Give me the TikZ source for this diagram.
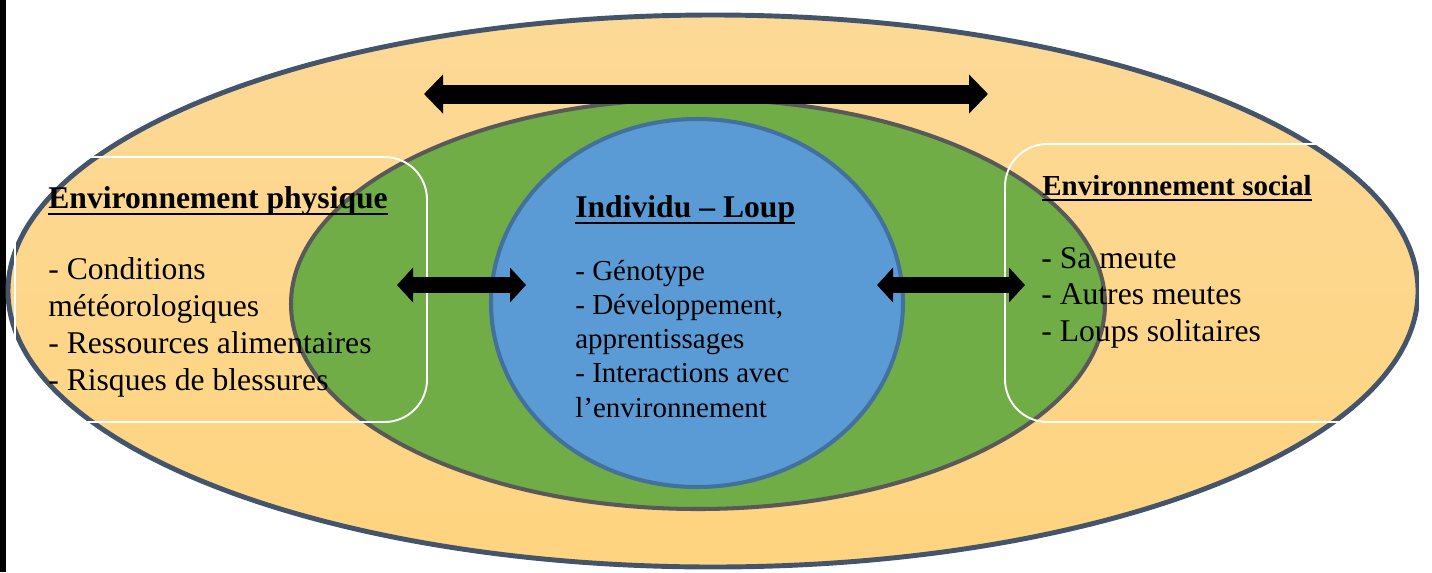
\documentclass[tikz,border=0pt]{standalone}
\usepackage{fontspec}
\setmainfont{Liberation Serif}
\usetikzlibrary{arrows.meta}
\definecolor{sable}{RGB}{253,217,151}
\definecolor{sablefonce}{RGB}{254,212,127}
\definecolor{ardoise}{RGB}{68,84,106}
\definecolor{herbe}{RGB}{112,173,71}
\definecolor{grisbord}{RGB}{89,89,89}
\definecolor{ciel}{RGB}{91,155,213}
\definecolor{cielbord}{RGB}{65,113,156}
\newcommand{\souligne}[1]{\setbox0\hbox{#1}\rlap{\rule[-0.21em]{\wd0}{0.06em}}\box0}

\begin{document}
\begin{tikzpicture}[x=0.02cm,y=-0.02cm]
                \tikzset{bifleche/.style={line width=0.32cm,
                {Triangle[length=0.32cm,width=0.68cm]}-{Triangle[length=0.32cm,width=0.68cm]}},
                grandefleche/.style={line width=0.38cm,
                {Triangle[length=0.38cm,width=0.76cm]}-{Triangle[length=0.38cm,width=0.76cm]}},
                cadre/.style={draw=white, line width=1.1pt, rounded corners=0.85cm},
                titre/.style={anchor=base west, inner sep=0pt, font=\bfseries\fontsize{18}{21}\selectfont},
                liste/.style={anchor=base west, inner sep=0pt, align=left, font=\fontsize{18}{21}\selectfont}}
                
                \useasboundingbox (0,0) rectangle (1432,572);
                \fill[black] (0,0) rectangle (6,572);
                \path[top color=sable, bottom color=sablefonce, draw=ardoise, line width=2.8pt] (713,291) ellipse [x radius=705, y radius=276];
                \filldraw[fill=herbe, draw=grisbord, line width=2.3pt] (698,304) ellipse [x radius=407, y radius=205];
                \filldraw[fill=ciel, draw=cielbord, line width=2.3pt] (697,303) ellipse [x radius=206, y radius=184];
                \draw[cadre] (15,157) rectangle (427,422);
                \draw[cadre] (1005,144) rectangle (1420,422);
                
                \coordinate (hautG) at (424,94);
                \coordinate (hautD) at (988,94);
                \coordinate (physG) at (397,285);
                \coordinate (physD) at (526,285);
                \coordinate (socG) at (877,285);
                \coordinate (socD) at (1025,285);
                \draw[grandefleche] (hautG) -- (hautD);
                \draw[bifleche] (physG) -- (physD);
                \draw[bifleche] (socG) -- (socD);
                
                \node[titre] (physique) at (48,208) {\souligne{Environnement physique}};
                \node[liste] (physiqueliste) at (48,390) {- Conditions\\météorologiques\\- Ressources alimentaires\\- Risques de blessures};
                \node[titre] (individu) at (575,217) {\souligne{Individu – Loup}};
                \node[liste, font=\fontsize{16.5}{19.4}\selectfont] (individuliste) at (575,417) {- Génotype\\- Développement,\\apprentissages\\- Interactions avec\\l’environnement};
                \node[titre, font=\bfseries\fontsize{16.5}{19}\selectfont] (social) at (1042,195) {\souligne{Environnement social}};
                \node[liste, font=\fontsize{18}{20.7}\selectfont] (socialliste) at (1041,341) {- Sa meute\\- Autres meutes\\- Loups solitaires};
            \end{tikzpicture}
\end{document}
